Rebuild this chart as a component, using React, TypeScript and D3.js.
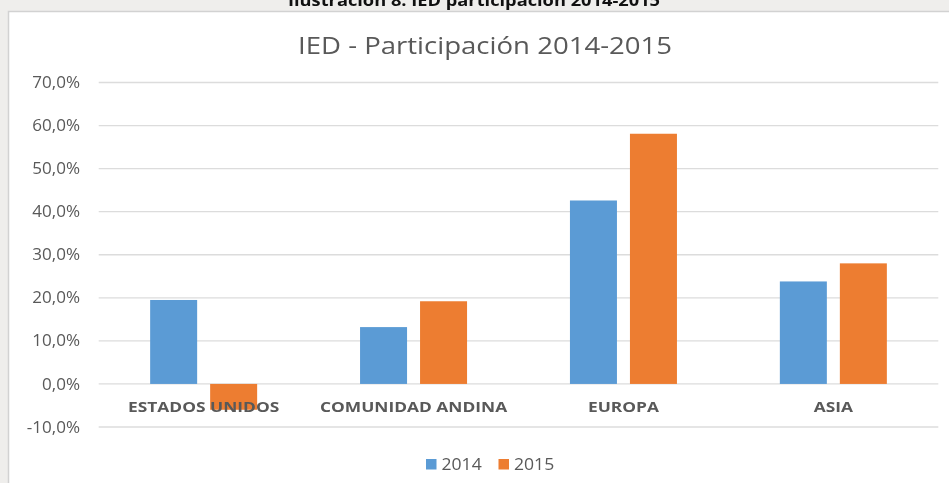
import React from "react";
import * as d3 from "d3";

const categories = ["ESTADOS UNIDOS", "COMUNIDAD ANDINA", "EUROPA", "ASIA"];
const series = ["2014", "2015"];
const values2014 = [19.5, 13.2, 42.6, 23.8];
const values2015 = [-6.0, 19.2, 58.1, 28.0];
const yTicks = [-10, 0, 10, 20, 30, 40, 50, 60, 70];
const colors = ["#5b9bd5", "#ed7d31"];
const title = "IED - Participación 2014-2015";
const caption = "Ilustración 8. IED participación 2014-2015";

const W = 949;
const H = 483;

export default function App() {
  const x0 = d3.scaleBand<string>().domain(categories).range([98.7, 938.3]).paddingInner(0).paddingOuter(0);
  const pairW = 107;
  const x1 = d3.scaleBand<string>().domain(series).range([0, pairW]).paddingInner(13 / 60);
  const y = d3.scaleLinear().domain([-10, 70]).range([427, 82.5]);
  const fmt = (v: number) => (v.toFixed(1) + "%").replace(".", ",");
  const data = [values2014, values2015];
  const font = "'Open Sans', 'DejaVu Sans', sans-serif";
  const grey = "#595959";

  return (
    <div style={{ position: "fixed", left: 0, top: 0, width: W, height: H, overflow: "hidden" }}>
      <svg width={W} height={H} style={{ display: "block" }}>
        <rect x={0} y={0} width={W} height={H} fill="#efeeec" />
        <text
          x={474}
          y={5.5}
          textAnchor="middle"
          fontFamily={font}
          fontWeight="bold"
          fontSize={16}
          fill="#111"
          textLength={372}
          lengthAdjust="spacingAndGlyphs"
        >
          {caption}
        </text>
        <rect x={8.5} y={11.5} width={W} height={H} fill="#ffffff" stroke="#d2d2d2" strokeWidth={1.5} />
        <text
          x={485}
          y={54}
          textAnchor="middle"
          fontFamily={font}
          fontSize={24}
          fill={grey}
          textLength={374}
          lengthAdjust="spacingAndGlyphs"
        >
          {title}
        </text>
        {yTicks.map((t) => (
          <g key={t}>
            <line x1={98.7} x2={938.3} y1={y(t)} y2={y(t)} stroke="#dcdcdc" strokeWidth={1.3} />
            <g transform={`translate(80,${y(t)}) scale(1.1,1)`}>
              <text x={0} y={0} dy="0.36em" textAnchor="end" fontFamily={font} fontSize={15.5} fill={grey}>
                {fmt(t)}
              </text>
            </g>
          </g>
        ))}
        {categories.map((c, i) => (
          <g key={c} transform={`translate(${(x0(c) as number) + x0.bandwidth() / 2 - pairW / 2},0)`}>
            {series.map((s, j) => {
              const v = data[j][i];
              return (
                <rect
                  key={s}
                  x={x1(s)}
                  width={x1.bandwidth()}
                  y={Math.min(y(v), y(0))}
                  height={Math.abs(y(v) - y(0))}
                  fill={colors[j]}
                />
              );
            })}
          </g>
        ))}
        {categories.map((c) => (
          <g key={c} transform={`translate(${(x0(c) as number) + x0.bandwidth() / 2},407) scale(1.19,1)`}>
            <text x={0} y={0} dy="0.36em" textAnchor="middle" fontFamily={font} fontWeight="bold" fontSize={14.6} fill={grey}>
              {c}
            </text>
          </g>
        ))}
        {series.map((s, j) => {
          const lx = 426 + j * 72.5;
          return (
            <g key={s}>
              <rect x={lx} y={459} width={10.5} height={10.5} fill={colors[j]} />
              <g transform={`translate(${lx + 15.5},464) scale(1.1,1)`}>
                <text x={0} y={0} dy="0.36em" fontFamily={font} fontSize={16} fill={grey}>
                  {s}
                </text>
              </g>
            </g>
          );
        })}
      </svg>
    </div>
  );
}
